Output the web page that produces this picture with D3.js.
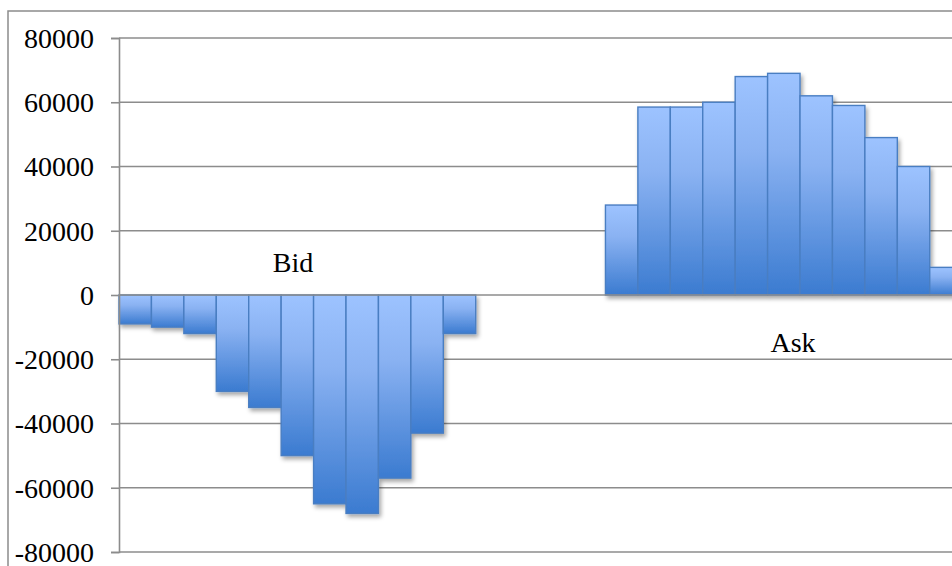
<!DOCTYPE html>
<html>
<head>
<meta charset="utf-8">
<script src="https://cdn.jsdelivr.net/npm/d3@7"></script>
<style>
  html, body { margin: 0; padding: 0; background: #fff; overflow: hidden; }
  svg { display: block; }
  text { font-family: "Liberation Serif", "DejaVu Serif", serif; fill: #000; }
</style>
</head>
<body>
<svg id="chart" width="952" height="566"></svg>
<script>
// Order book depth: bid volume (negative) and ask volume (positive) per price slot
const bidValues = [-9000, -10000, -12000, -30000, -35000, -50000, -65000, -68000, -57000, -43000, -12000];
const gapSlots = 4;
const askValues = [28000, 58500, 58500, 60000, 68000, 69000, 62000, 59000, 49000, 40000, 8600];
const yTicks = [-80000, -60000, -40000, -20000, 0, 20000, 40000, 60000, 80000];
const sideLabels = ["Bid", "Ask"];

const slots = [
  ...bidValues.map(v => ({ side: "bid", value: v })),
  ...d3.range(gapSlots).map(() => ({ side: "gap", value: null })),
  ...askValues.map(v => ({ side: "ask", value: v }))
];
slots.forEach((d, i) => d.index = i);

const svg = d3.select("#chart");
const plot = { left: 119, top: 38, bottom: 552, band: 32.43 };

const x = d3.scaleBand()
  .domain(slots.map(d => d.index))
  .range([plot.left, plot.left + plot.band * slots.length])
  .padding(0);

const y = d3.scaleLinear()
  .domain([d3.min(yTicks), d3.max(yTicks)])
  .range([plot.bottom, plot.top]);

const defs = svg.append("defs");
const grad = defs.append("linearGradient")
  .attr("id", "barFill").attr("x1", 0).attr("y1", 0).attr("x2", 0).attr("y2", 1);
grad.append("stop").attr("offset", "0%").attr("stop-color", "#9dc3ff");
grad.append("stop").attr("offset", "35%").attr("stop-color", "#8ab2f2");
grad.append("stop").attr("offset", "100%").attr("stop-color", "#3b7bd0");

const shadow = defs.append("filter").attr("id", "barShadow")
  .attr("x", "-20%").attr("y", "-20%").attr("width", "150%").attr("height", "150%");
shadow.append("feDropShadow")
  .attr("dx", 2).attr("dy", 3).attr("stdDeviation", 2.2)
  .attr("flood-color", "#000").attr("flood-opacity", 0.35);

// Outer chart frame
svg.append("rect")
  .attr("x", 8).attr("y", 11).attr("width", 1000).attr("height", 600)
  .attr("fill", "none").attr("stroke", "#8c8c8c").attr("stroke-width", 1.5);

// Horizontal gridlines (zero line drawn later, above the bars)
svg.append("g").selectAll("line")
  .data(yTicks.filter(t => t !== 0))
  .join("line")
  .attr("x1", plot.left).attr("x2", 1000)
  .attr("y1", d => y(d)).attr("y2", d => y(d))
  .attr("stroke", "#8c8c8c").attr("stroke-width", 1.6);

// Bars
svg.append("g").attr("filter", "url(#barShadow)")
  .selectAll("rect")
  .data(slots.filter(d => d.value !== null))
  .join("rect")
  .attr("x", d => x(d.index))
  .attr("width", x.bandwidth())
  .attr("y", d => y(Math.max(0, d.value)))
  .attr("height", d => Math.abs(y(d.value) - y(0)))
  .attr("fill", "url(#barFill)")
  .attr("stroke", "#4a7ec2")
  .attr("stroke-width", 1.4);

// Zero line
svg.append("line")
  .attr("x1", plot.left).attr("x2", 1000)
  .attr("y1", y(0)).attr("y2", y(0))
  .attr("stroke", "#8c8c8c").attr("stroke-width", 1.6);

// Left value axis (plain hyphen for negatives)
const axis = svg.append("g")
  .attr("transform", `translate(${plot.left},0)`)
  .call(d3.axisLeft(y).tickValues(yTicks).tickFormat(d => String(d)).tickSize(8).tickPadding(17));
axis.select(".domain").attr("stroke", "#8c8c8c").attr("stroke-width", 1.6);
axis.selectAll(".tick line").attr("stroke", "#8c8c8c").attr("stroke-width", 1.6);
axis.selectAll(".tick text")
  .attr("font-family", "'Liberation Serif', 'DejaVu Serif', serif")
  .attr("font-size", 28).attr("fill", "#000").attr("dy", "0.33em");

// Side annotations
svg.append("text").text(sideLabels[0])
  .attr("x", 293).attr("y", 272)
  .attr("text-anchor", "middle").attr("font-size", 28);
svg.append("text").text(sideLabels[1])
  .attr("x", 793).attr("y", 352)
  .attr("text-anchor", "middle").attr("font-size", 28);
</script>
</body>
</html>
